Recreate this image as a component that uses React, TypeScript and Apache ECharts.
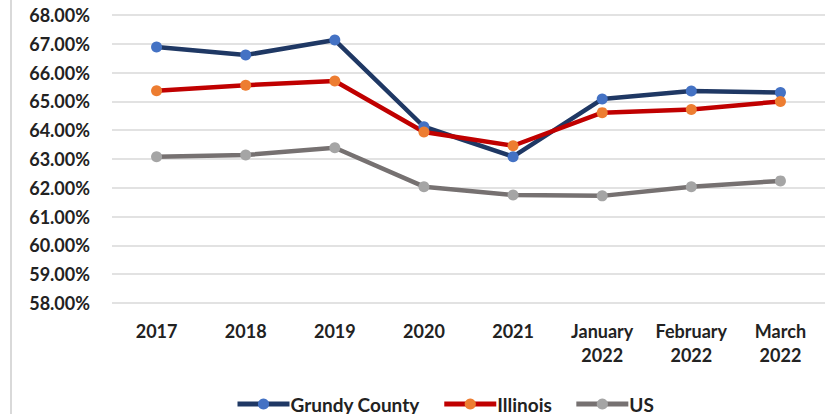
import React, { useEffect, useRef } from "react";
import * as echarts from "echarts";

const categories = ["2017", "2018", "2019", "2020", "2021", "January\n2022", "February\n2022", "March\n2022"];
const grundy = [66.89, 66.61, 67.13, 64.12, 63.08, 65.08, 65.36, 65.31];
const illinois = [65.37, 65.56, 65.71, 63.94, 63.46, 64.61, 64.72, 65.0];
const us = [63.08, 63.14, 63.39, 62.04, 61.75, 61.72, 62.04, 62.24];

const FONT = "Lato";

export default function App() {
  const ref = useRef<HTMLDivElement>(null);
  useEffect(() => {
    const chart = echarts.init(ref.current!, null, { renderer: "svg" });
    const mk = (name: string, data: number[], line: string, marker: string) => ({
      name,
      type: "line",
      data,
      symbol: "circle",
      symbolSize: 11,
      lineStyle: { color: line, width: 4.5 },
      itemStyle: { color: marker, borderWidth: 0 },
      color: marker,
    });
    chart.setOption({
      animation: false,
      backgroundColor: "#ffffff",
      grid: { left: 112, right: 6, top: 15, bottom: 111, containLabel: false },
      xAxis: {
        type: "category",
        data: categories,
        boundaryGap: true,
        axisLine: { show: false },
        axisTick: { show: false },
        axisLabel: {
          margin: 16,
          fontFamily: FONT,
          fontWeight: "bold",
          fontSize: 18,
          lineHeight: 24,
          color: "#222222",
          interval: 0,
        },
      },
      yAxis: {
        type: "value",
        min: 58,
        max: 68,
        interval: 1,
        axisLine: { show: false },
        axisTick: { show: false },
        splitLine: { lineStyle: { color: "#D9D9D9", width: 1.5 } },
        axisLabel: {
          margin: 22,
          fontFamily: FONT,
          fontWeight: "bold",
          fontSize: 18,
          color: "#222222",
          formatter: (v: number) => v.toFixed(2) + "%",
        },
      },
      legend: {
        top: 389,
        left: 230,
        itemWidth: 52,
        itemHeight: 14,
        itemGap: 22,
        lineStyle: { width: 5 },
        textStyle: {
          fontFamily: FONT,
          fontWeight: "bold",
          fontSize: 19,
          lineHeight: 20,
          color: "#222222",
          padding: [0, 0, 0, -4],
        },
        data: ["Grundy County", "Illinois", "US"],
      },
      graphic: [
        {
          type: "line",
          shape: { x1: 11, y1: 0, x2: 11, y2: 414 },
          style: { stroke: "#D9D9D9", lineWidth: 2 },
        },
      ],
      series: [
        mk("Grundy County", grundy, "#1F3864", "#4472C4"),
        mk("Illinois", illinois, "#C00000", "#ED7D31"),
        mk("US", us, "#767171", "#A5A5A5"),
      ],
    });
    return () => chart.dispose();
  }, []);
  return (
    <div
      ref={ref}
      style={{ position: "fixed", left: 0, top: 0, width: 831, height: 414 }}
    />
  );
}
